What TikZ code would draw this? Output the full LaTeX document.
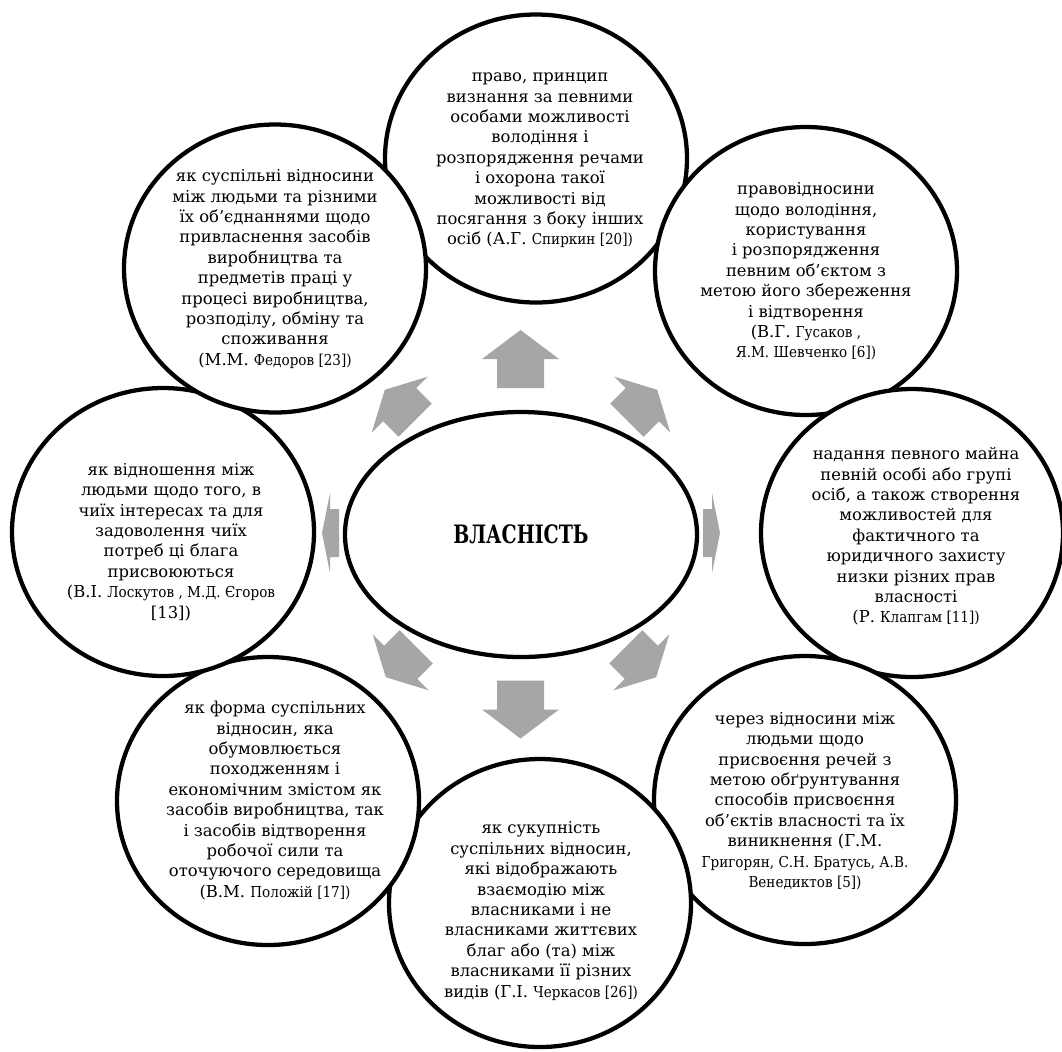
\documentclass[tikz,border=0pt]{standalone}
\usepackage{fontspec}
\setmainfont{DejaVu Serif}
\newfontfamily\titlefont[FakeStretch=0.75]{DejaVu Serif}
\newfontfamily\citfont[FakeStretch=0.9]{DejaVu Serif}
\usetikzlibrary{shapes.geometric}
\definecolor{arrowgray}{RGB}{166,166,166}
\newcommand\cit[1]{{\citfont\fontsize{11.3}{15.3}\selectfont #1}}
% cx cy angle headlen shaftlen headhalf shafthalf
\newcommand\blockarrow[7]{%
  \begin{scope}[shift={(#1,#2)},rotate=#3]
    \fill[arrowgray] ({-(#4+#5)/2},{-#7}) -- ({-(#4+#5)/2+#5},{-#7}) -- ({-(#4+#5)/2+#5},{-#6})
      -- ({(#4+#5)/2},0) -- ({-(#4+#5)/2+#5},{#6}) -- ({-(#4+#5)/2+#5},{#7}) -- ({-(#4+#5)/2},{#7}) -- cycle;
  \end{scope}}
\tikzset{
  circ/.style={ellipse, draw=black, line width=3.2pt, fill=white, minimum width=226.5pt, minimum height=216pt, inner sep=0pt},
  core/.style={ellipse, draw=black, line width=3.2pt, fill=white, minimum width=264pt, minimum height=183.75pt, inner sep=0pt},
  txt/.style={align=center, font=\fontsize{12.3}{15.3}\selectfont, inner sep=0pt}
}
\begin{document}
\begin{tikzpicture}[x=0.75pt, y=-0.75pt]
\useasboundingbox (0,0) rectangle (1062,1051);
\fill[white] (0,0) rectangle (1062,1051);
% outer circles, clockwise from top
\node[circ] (c1) at (536,158.5) {};
\node[circ] (c2) at (806,271) {};
\node[circ] (c3) at (912,533) {};
\node[circ] (c4) at (805,800) {};
\node[circ] (c5) at (540,903) {};
\node[circ] (c6) at (268,801) {};
\node[circ] (c7) at (163,532) {};
\node[circ] (c8) at (275,268.5) {};
% texts
\node[txt] (t1) at (540,160.5) {право, принцип\\ визнання за певними\\ особами можливості\\ володіння і\\ розпорядження речами\\ і охорона такої\\ можливості від\\ посягання з боку інших\\ осіб (А.Г. \cit{Спиркин [20])}};
\node[txt] (t2) at (806,271.5) {правовідносини\\ щодо володіння,\\ користування\\ і розпорядження\\ певним об’єктом з\\ метою його збереження\\ і відтворення\\ (В.Г. \cit{Гусаков ,}\\ \cit{Я.М. Шевченко [6])}};
\node[txt] (t3) at (916,536.5) {надання певного майна\\ певній особі або групі\\ осіб, а також створення\\ можливостей для\\ фактичного та\\ юридичного захисту\\ низки різних прав\\ власності\\ (Р. \cit{Клапгам [11])}};
\node[txt] (t4) at (805,801) {через відносини між\\ людьми щодо\\ присвоєння речей з\\ метою обґрунтування\\ способів присвоєння\\ об’єктів власності та їх\\ виникнення (Г.М.\\ \cit{Григорян, С.Н. Братусь, А.В.}\\ \cit{Венедиктов [5])}};
\node[txt] (t5) at (541,911) {як сукупність\\ суспільних відносин,\\ які відображають\\ взаємодію між\\ власниками і не\\ власниками життєвих\\ благ або (та) між\\ власниками її різних\\ видів (Г.І. \cit{Черкасов [26])}};
\node[txt] (t6) at (275,800.5) {як форма суспільних\\ відносин, яка\\ обумовлюється\\ походженням і\\ економічним змістом як\\ засобів виробництва, так\\ і засобів відтворення\\ робочої сили та\\ оточуючого середовища\\ (В.М. \cit{Положій [17])}};
\node[txt] (t7) at (171,542) {як відношення між\\ людьми щодо того, в\\ чиїх інтересах та для\\ задоволення чиїх\\ потреб ці блага\\ присвоюються\\ (В.І. \cit{Лоскутов , М.Д. Єгоров}\\ {}[13])};
\node[txt] (t8) at (275,269) {як суспільні відносини\\ між людьми та різними\\ їх об’єднаннями щодо\\ привласнення засобів\\ виробництва та\\ предметів праці у\\ процесі виробництва,\\ розподілу, обміну та\\ споживання\\ (М.М. \cit{Федоров [23])}};
% block arrows
\blockarrow{520.5}{359}{90}{29}{29}{38.5}{23.5}
\blockarrow{520.5}{709.5}{-90}{29}{29}{38.5}{23.5}
\blockarrow{330.5}{533}{180}{8}{9}{40}{24}
\blockarrow{711.5}{533}{0}{8}{9}{40}{24}
\blockarrow{642}{405}{45}{21}{22}{39.5}{23.5}
\blockarrow{400}{405}{135}{21}{22}{39.5}{23.5}
\blockarrow{401}{662}{225}{21}{22}{39.5}{23.5}
\blockarrow{641}{662}{-45}{21}{22}{39.5}{23.5}
% centre
\node[core] (core) at (521,534.5) {\titlefont\bfseries\fontsize{19}{22}\selectfont ВЛАСНІСТЬ};
\end{tikzpicture}
\end{document}
